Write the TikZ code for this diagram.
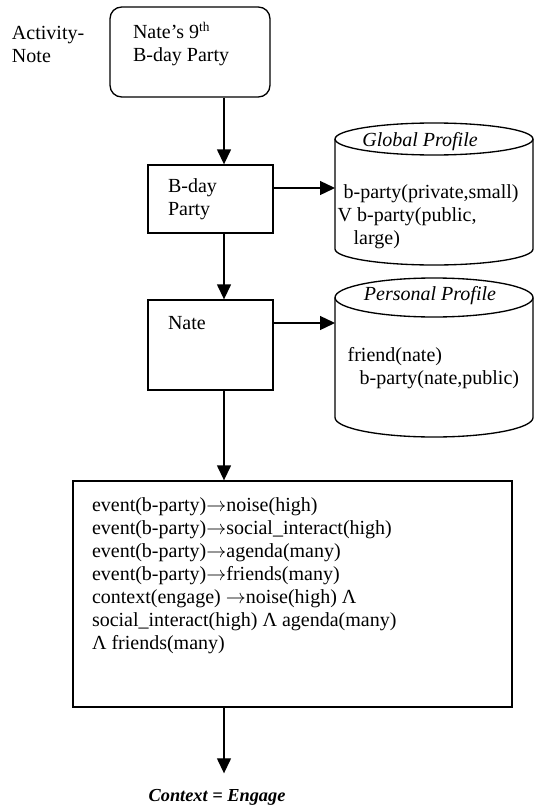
\documentclass[tikz,border=0pt]{standalone}
\usepackage{fontspec}
\setmainfont{Liberation Serif}
\usetikzlibrary{arrows.meta,positioning}

\begin{document}
\begin{tikzpicture}[thick,on grid,>={Triangle[length=9pt,width=8.4pt]},
    font=\fontsize{12}{13.8}\selectfont]
  \tikzstyle{box}=[draw,rectangle,inner sep=0pt]
  \tikzstyle{store}=[rectangle,inner sep=0pt,outer sep=0pt,minimum width=118.8pt]
  \tikzstyle{txt}=[inner sep=0pt,anchor=north west,align=left]
  \tikzstyle{head}=[inner sep=0pt,anchor=center,font=\fontsize{12}{13.8}\selectfont\itshape]

  \useasboundingbox (0,0) rectangle (321pt,-484.2pt);

  \node[box,rounded corners=7pt,minimum width=96pt,minimum height=54pt,
        label={[txt,xshift=13.8pt,yshift=-9pt]north west:{Nate’s 9\textsuperscript{th}\\B-day Party}}]
        (note) at (114pt,-31.2pt) {};
  \node[txt] (kind) at ([xshift=-58.8pt,yshift=-11.4pt]note.north west) {Activity-\\Note};

  \node[box,minimum width=75pt,minimum height=40.8pt,
        label={[txt,xshift=12pt,yshift=-8.4pt]north west:{B-day\\Party}}]
        (bday) [below right=88.2pt and 12.3pt of note] {};
  \node[box,minimum width=75pt,minimum height=54pt,
        label={[txt,xshift=12pt,yshift=-9.6pt]north west:{Nate}}]
        (nate) [below=87.6pt of bday] {};

  \node[store,minimum height=85.2pt,
        label={[head,xshift=-8.4pt,yshift=-11.4pt]north:Global Profile},
        label={[txt,xshift=1.2pt,yshift=6pt]west:{\hspace*{3.6pt}b-party(private,small)\\V b-party(public,\\\hspace*{9.6pt}large)}}]
        (global) [above right=3pt and 134.1pt of bday] {};
  \node[store,minimum height=95.4pt,
        label={[head,xshift=-2.4pt,yshift=-10.8pt]north:Personal Profile},
        label={[txt,xshift=7.2pt,yshift=6.3pt]west:{friend(nate)\\\hspace*{7.2pt}b-party(nate,public)}}]
        (personal) [below right=7.5pt and 134.1pt of nate] {};

  % the two profile stores as cylinders
  \foreach \db/\ry in {global/9.6pt,personal/11.7pt}{
    \draw ([yshift=-\ry]\db.north) ellipse [x radius=59.4pt,y radius=\ry];
    \draw ([yshift=-\ry]\db.north west) -- ([yshift=\ry]\db.south west)
          arc [start angle=180,end angle=360,x radius=59.4pt,y radius=\ry]
          -- ([yshift=-\ry]\db.north east);
  }

  \node[box,minimum width=263.4pt,minimum height=135.6pt,
        label={[txt,xshift=11.4pt,yshift=-10.2pt]north west:{%
          event(b-party)$\rightarrow$noise(high)\\
          event(b-party)$\rightarrow$social\_interact(high)\\
          event(b-party)$\rightarrow$agenda(many)\\
          event(b-party)$\rightarrow$friends(many)\\
          context(engage) $\rightarrow$noise(high) Λ\\
          social\_interact(high) Λ agenda(many)\\
          Λ friends(many)}}]
        (rules) [below right=149.4pt and 49.2pt of nate] {};

  \node[inner sep=0pt,font=\fontsize{11}{13}\selectfont\bfseries\itshape]
        (result) [below left=121.8pt and 45.3pt of rules] {Context = Engage};

  \coordinate (spine) at ([xshift=8.1pt]bday.center);

  \draw[->] (note.south -| spine) -- (bday.north -| spine);
  \draw[->] (bday.south -| spine) -- (nate.north -| spine);
  \draw[->] (nate.south -| spine) -- (rules.north -| spine);
  \draw[->,shorten >=9pt] (rules.south -| spine) -- (result.north -| spine);
  \draw[->] ([yshift=6.6pt]bday.east) -- ([yshift=6.6pt]bday.east -| global.west);
  \draw[->] ([yshift=13.2pt]nate.east) -- ([yshift=13.2pt]nate.east -| personal.west);
\end{tikzpicture}
\end{document}
